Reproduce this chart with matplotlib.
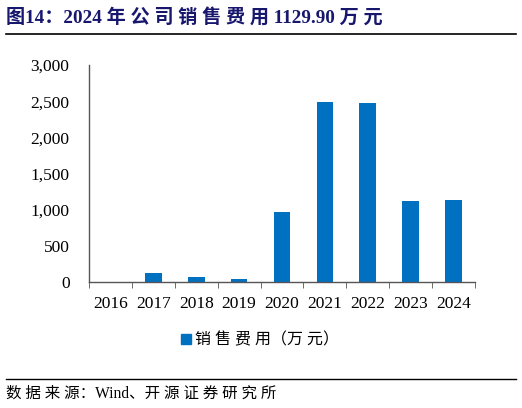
import matplotlib
matplotlib.use("Agg")
import matplotlib.pyplot as plt
import numpy as np
from matplotlib.lines import Line2D

# data
years = ["2016", "2017", "2018", "2019", "2020", "2021", "2022", "2023", "2024"]
sales_expense = [5, 120, 73, 37, 968, 2485, 2471, 1120, 1129.90]
yticks = [0, 500, 1000, 1500, 2000, 2500, 3000]

serif = ["Liberation Serif", "Noto Sans CJK SC"]
blue = "#0070C0"
navy = "#17176e"

fig = plt.figure(figsize=(5.22, 4.08), dpi=100)
ax = fig.add_axes([0.1705, 0.3088, 0.7395, 0.5319])

x = np.arange(len(years))
ax.bar(x, sales_expense, width=0.39, color=blue, zorder=2)

ax.set_xlim(-0.5, len(years) - 0.5)
ax.set_ylim(0, 3000)
ax.set_yticks(yticks)
ax.set_yticklabels([f"{v:,}" for v in yticks], family=serif, fontsize=12.5)
ax.set_xticks(x)
ax.set_xticklabels(years, family=serif, fontsize=12.5)
ax.tick_params(axis="x", which="major", length=0, pad=10)
ax.set_xticks(np.arange(-0.5, len(years)), minor=True)
ax.tick_params(axis="x", which="minor", length=4, direction="out", color="#555555")
ax.tick_params(axis="y", length=0, pad=14)

for s in ["top", "right"]:
    ax.spines[s].set_visible(False)
for s in ["left", "bottom"]:
    ax.spines[s].set_color("#555555")
    ax.spines[s].set_linewidth(1.0)

# title and rules
fig.text(0.012, 0.958, "图14：2024 年 公 司 销 售 费 用 1129.90 万 元",
         family=serif, fontsize=13.8, fontweight="bold", color=navy,
         va="center", ha="left")
fig.add_artist(Line2D([0.012, 0.988], [0.917, 0.917], color="black", lw=1.2))
fig.add_artist(Line2D([0.012, 0.988], [0.071, 0.071], color="black", lw=1.0))
fig.text(0.012, 0.035, "数 据 来 源：Wind、开 源 证 券 研 究 所",
         family=serif, fontsize=11.2, color="black", va="center", ha="left")

# legend
handle = Line2D([], [], marker="s", linestyle="none", markersize=7, color=blue)
leg = fig.legend([handle], ["销 售 费 用（万 元）"], loc="center", bbox_to_anchor=(0.495, 0.165),
                 frameon=False, prop={"family": serif, "size": 11.5}, handletextpad=0.1,
                 handlelength=1.0)

fig.savefig("out.png", dpi=100)
